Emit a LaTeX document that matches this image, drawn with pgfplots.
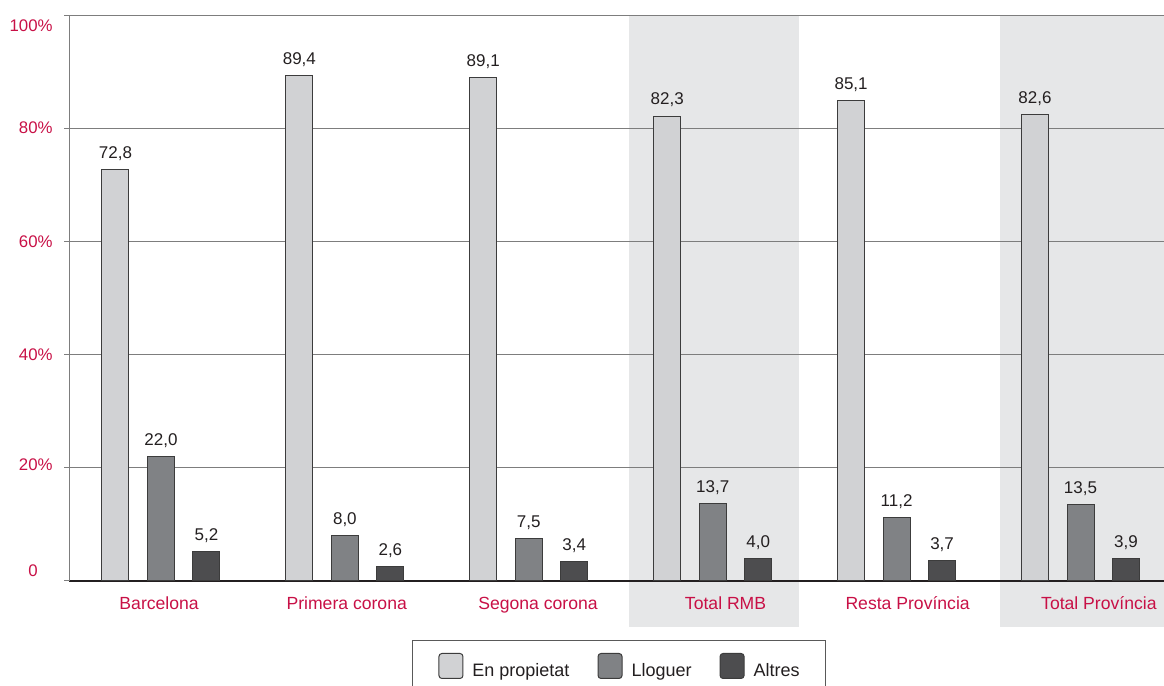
\documentclass[border=0pt]{standalone}
\usepackage{pgfplots}
\pgfplotsset{compat=1.18}
\usepackage{fontspec}
\setmainfont{Liberation Sans}
\definecolor{crim}{RGB}{200,16,70}
\definecolor{txt}{RGB}{35,31,32}
\definecolor{c1}{RGB}{209,210,212}
\definecolor{c2}{RGB}{128,130,133}
\definecolor{c3}{RGB}{77,77,79}
\definecolor{bgshade}{RGB}{230,231,232}
\definecolor{gridc}{RGB}{125,125,125}
\definecolor{barb}{RGB}{60,60,60}
\begin{document}
\begin{tikzpicture}[x=1pt,y=1pt]
\begin{axis}[
  set layers, clip=false,
  at={(34.5pt,52.5pt)}, anchor=south west,
  scale only axis, width=547.5pt, height=282.5pt,
  xmin=-0.5, xmax=5.454, ymin=0, ymax=100,
  axis x line=bottom, axis y line=left,
  x axis line style={-, draw=txt, line width=0.6pt},
  y axis line style={-, draw=gridc, line width=0.5pt},
  ybar,
  legend image code/.code={\draw[#1, rounded corners=1.5pt, line width=0.5pt] (0pt,-3.35pt) rectangle (12pt,9.15pt);},
  /pgf/number format/.cd, fixed, fixed zerofill, precision=1, use comma, assume math mode=true, /pgfplots/.cd,
  xtick={-0.01,1.01,2.05,3.07,4.06,5.10},
  xticklabels={Barcelona, Primera corona, Segona corona, Total RMB, Resta Província, Total Província},
  xtick style={draw=none},
  xticklabel style={font=\fontsize{8.8}{10}\selectfont, text=crim, anchor=base, inner sep=0pt, yshift=-14.3pt},
  ytick={1.9,20.5,40,60,80.3,98.3},
  yticklabels={0\phantom{\%},20\%,40\%,60\%,80\%,100\%},
  yticklabel style={font=\fontsize{8.4}{10}\selectfont, text=crim, anchor=east, inner sep=0pt, xshift=-8pt},
  tick align=outside,
  major tick length=0pt,
  tick style={draw=gridc, line width=0.5pt},
  extra y ticks={0,20,40,60,80,100},
  extra y tick labels={,,,,,},
  extra y tick style={grid=major, major tick length=2.5pt},
  major grid style={draw=gridc, line width=0.5pt},
  nodes near coords,
  every node near coord/.append style={font=\fontsize{8.5}{10}\selectfont, text=txt, anchor=base, inner sep=0pt, yshift=5.5pt},
  legend columns=3,
  legend style={at={(0.5023,-0.1044)}, anchor=north, draw=gray!70!black, line width=0.5pt,
    inner xsep=13pt, inner ysep=6.25pt, font=\fontsize{9}{10}\selectfont, text=txt,
    nodes={inner sep=0pt},
    /tikz/every odd column/.append style={column sep=4.5pt},
    /tikz/every even column/.append style={column sep=14pt}},
]
\begin{pgfonlayer}{axis background}
\fill[bgshade] (axis cs:2.545,-8.14) rectangle (axis cs:3.469,100);
\fill[bgshade] (axis cs:4.562,-8.14) rectangle (axis cs:5.454,100);
\end{pgfonlayer}
\addplot[bar width=13.5pt, bar shift=-22.75pt, fill=c1, draw=barb, line width=0.5pt]
  coordinates {(0,72.8) (1,89.4) (2,89.1) (3,82.3) (4,85.1) (5,82.6)};
\addlegendentry{En propietat}
\addplot[bar width=13.5pt, bar shift=0pt, fill=c2, draw=barb, line width=0.5pt]
  coordinates {(0,22.0) (1,8.0) (2,7.5) (3,13.7) (4,11.2) (5,13.5)};
\addlegendentry{Lloguer}
\addplot[bar width=13.5pt, bar shift=22.75pt, fill=c3, draw=barb, line width=0.5pt]
  coordinates {(0,5.2) (1,2.6) (2,3.4) (3,4.0) (4,3.7) (5,3.9)};
\addlegendentry{Altres}
\end{axis}
\pgfresetboundingbox
\useasboundingbox (0,0) rectangle (582,343);
\end{tikzpicture}
\end{document}
